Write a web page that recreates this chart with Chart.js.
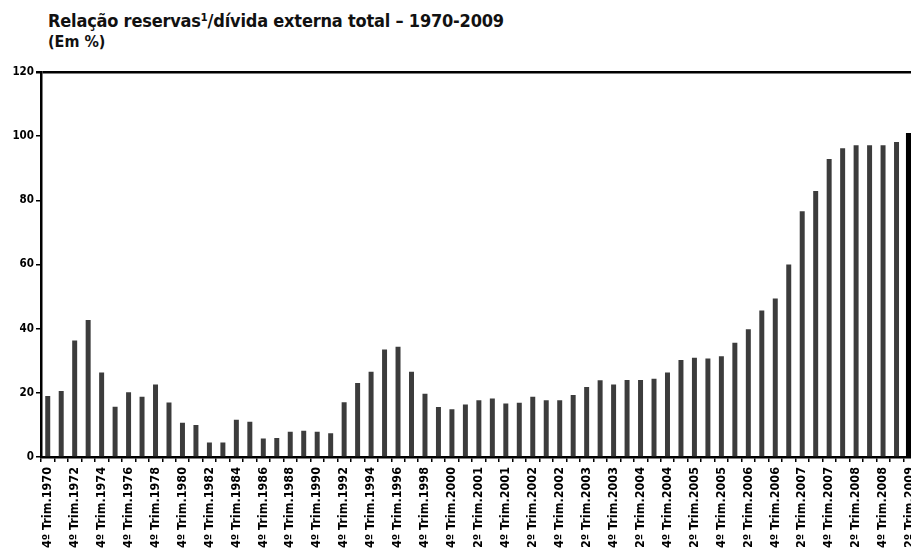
<!DOCTYPE html>
<html>
<head>
<meta charset="utf-8">
<script src="https://cdn.jsdelivr.net/npm/chart.js@4"></script>
<style>
  html, body { margin: 0; padding: 0; background: #fff; overflow: hidden; width: 911px; height: 550px; }
  #wrap { position: relative; width: 911px; height: 550px; overflow: hidden; }
  #chart { position: absolute; left: 0; top: 0; }
  .title { position: absolute; left: 48px; top: 10px; font: bold 18px "Liberation Sans Narrow", "DejaVu Sans Condensed", sans-serif; color: #111; white-space: nowrap; letter-spacing: -0.2px; }
  .subtitle { position: absolute; left: 48px; top: 32px; font: bold 16px "Liberation Sans Narrow", "DejaVu Sans Condensed", sans-serif; color: #111; }
</style>
</head>
<body>
<div id="wrap">
  <div class="title">Relação reservas¹/dívida externa total – 1970-2009</div>
  <div class="subtitle">(Em %)</div>
  <canvas id="chart" width="930" height="560"></canvas>
</div>
<script>
// Period labels: yearly (4th quarter) up to 2000, quarterly from 2001
const categories = [
    "4º Trim.1970", "4º Trim.1971", "4º Trim.1972", "4º Trim.1973", "4º Trim.1974",
    "4º Trim.1975", "4º Trim.1976", "4º Trim.1977", "4º Trim.1978", "4º Trim.1979",
    "4º Trim.1980", "4º Trim.1981", "4º Trim.1982", "4º Trim.1983", "4º Trim.1984",
    "4º Trim.1985", "4º Trim.1986", "4º Trim.1987", "4º Trim.1988", "4º Trim.1989",
    "4º Trim.1990", "4º Trim.1991", "4º Trim.1992", "4º Trim.1993", "4º Trim.1994",
    "4º Trim.1995", "4º Trim.1996", "4º Trim.1997", "4º Trim.1998", "4º Trim.1999",
    "4º Trim.2000",
    "1º Trim.2001", "2º Trim.2001", "3º Trim.2001", "4º Trim.2001",
    "1º Trim.2002", "2º Trim.2002", "3º Trim.2002", "4º Trim.2002",
    "1º Trim.2003", "2º Trim.2003", "3º Trim.2003", "4º Trim.2003",
    "1º Trim.2004", "2º Trim.2004", "3º Trim.2004", "4º Trim.2004",
    "1º Trim.2005", "2º Trim.2005", "3º Trim.2005", "4º Trim.2005",
    "1º Trim.2006", "2º Trim.2006", "3º Trim.2006", "4º Trim.2006",
    "1º Trim.2007", "2º Trim.2007", "3º Trim.2007", "4º Trim.2007",
    "1º Trim.2008", "2º Trim.2008", "3º Trim.2008", "4º Trim.2008",
    "1º Trim.2009", "2º Trim.2009"
];

// Reserves / total external debt (%)
const annualValues = [
    19.0, 20.6, 36.3, 42.7, 26.3, 15.7, 20.2, 18.8, 22.6, 17.0,
    10.7, 10.0, 4.5, 4.5, 11.6, 11.0, 5.8, 5.9, 7.9, 8.2,
    7.9, 7.4, 17.1, 23.1, 26.6, 33.5, 34.4, 26.6, 19.7, 15.6,
    14.9
];
const quarterlyValues = [
    16.4, 17.7, 18.2, 16.7,
    16.9, 18.8, 17.7, 17.7,
    19.3, 21.8, 23.9, 22.6,
    24.0, 24.0, 24.4, 26.3,
    30.2, 30.9, 30.7, 31.4,
    35.6, 39.8, 45.7, 49.4,
    60.0, 76.6, 82.9, 92.9,
    96.2, 97.2, 97.2, 97.2,
    98.2, 101.0
];
const yTicks = [0, 20, 40, 60, 80, 100, 120];

const values = annualValues.concat(quarterlyValues);
const lastIdx = values.length - 1;

const fontFamily = '"Liberation Sans Narrow", "DejaVu Sans Condensed", sans-serif';

const ctx = document.getElementById('chart').getContext('2d');
const chart = new Chart(ctx, {
    type: 'bar',
    data: {
        labels: categories,
        datasets: [{
            data: values.map((v, i) => i === lastIdx ? null : v),
            backgroundColor: '#3c3c3c',
            barPercentage: 0.37,
            categoryPercentage: 1
        }, {
            data: values.map((v, i) => i === lastIdx ? v : null),
            backgroundColor: '#000000',
            barPercentage: 0.6,
            categoryPercentage: 1
        }]
    },
    options: {
        responsive: false,
        animation: false,
        devicePixelRatio: 1,
        grouped: false,
        layout: { padding: { top: 72, left: 0, right: 0, bottom: 0 } },
        plugins: {
            legend: { display: false },
            tooltip: { enabled: false }
        },
        scales: {
            x: {
                offset: true,
                afterFit: (scale) => { scale.height = 103; },
                border: { color: '#000', width: 2.5 },
                grid: {
                    drawOnChartArea: false,
                    drawTicks: true,
                    tickLength: 5,
                    tickColor: '#000',
                    lineWidth: 1.5,
                    offset: true
                },
                ticks: {
                    autoSkip: false,
                    maxRotation: 90,
                    minRotation: 90,
                    padding: 5,
                    color: '#000',
                    font: { family: fontFamily, size: 12.5, weight: 'bold' },
                    callback: function(value, index) {
                        return index % 2 === 0 ? categories[index] : '';
                    }
                }
            },
            y: {
                min: 0,
                max: 120,
                afterFit: (scale) => { scale.width = 41; },
                afterBuildTicks: (scale) => { scale.ticks = yTicks.map(v => ({ value: v })); },
                border: { color: '#000', width: 2.5 },
                grid: {
                    color: (c) => c.tick && c.tick.value === 120 ? '#000' : 'rgba(0,0,0,0)',
                    lineWidth: (c) => c.tick && c.tick.value === 120 ? 2.5 : 1.5,
                    tickColor: '#000',
                    tickLength: 5
                },
                ticks: {
                    padding: 2,
                    color: '#000',
                    font: { family: fontFamily, size: 11.5, weight: 'bold' }
                }
            }
        }
    }
});
</script>
</body>
</html>
